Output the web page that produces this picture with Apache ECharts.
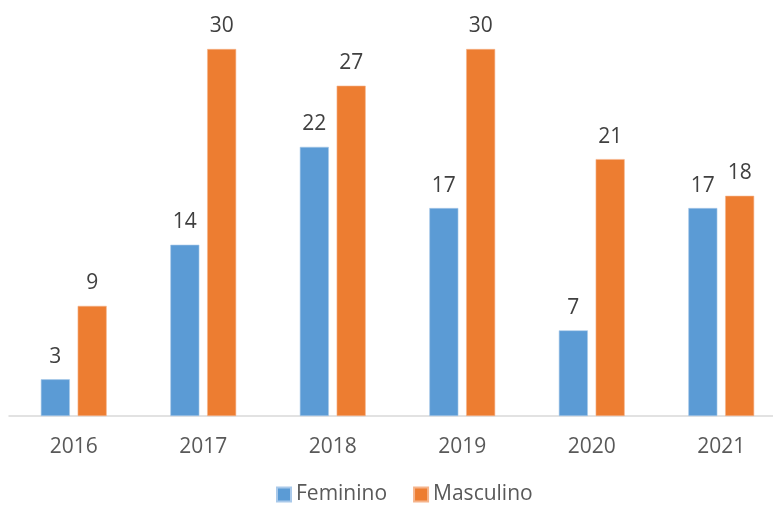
<!DOCTYPE html>
<html>
<head>
<meta charset="utf-8">
<script src="https://cdn.jsdelivr.net/npm/echarts@6/dist/echarts.min.js"></script>
<style>
  html, body { margin: 0; padding: 0; background: #ffffff; }
  #chart { width: 773px; height: 512px; }
</style>
</head>
<body>
<div id="chart"></div>
<script>
// Years on the category axis
const years = ['2016', '2017', '2018', '2019', '2020', '2021'];
// Counts per year by sex
const feminino = [3, 14, 22, 17, 7, 17];
const masculino = [9, 30, 27, 30, 21, 18];

const FONT = "'Open Sans', 'Noto Sans', sans-serif";

const chart = echarts.init(document.getElementById('chart'), null, { renderer: 'canvas' });

const labelStyle = {
  show: true,
  position: 'top',
  distance: 12,
  color: '#404040',
  fontSize: 21,
  fontFamily: FONT
};

chart.setOption({
  animation: false,
  backgroundColor: '#ffffff',
  // the last category band runs past the right edge of the canvas
  grid: { left: 9, width: 777, top: 49, bottom: 96, containLabel: false, outerBoundsMode: 'none' },
  legend: {
    top: 484,
    left: 276,
    padding: 0,
    itemWidth: 14,
    itemHeight: 14,
    itemGap: 26,
    icon: 'rect',
    textStyle: { color: '#595959', fontSize: 21, fontFamily: FONT },
    data: ['Feminino', 'Masculino']
  },
  xAxis: {
    type: 'category',
    data: years,
    axisLine: { lineStyle: { color: '#d9d9d9', width: 1.5 } },
    axisTick: { show: false },
    axisLabel: { color: '#595959', fontSize: 21, fontFamily: FONT, margin: 21 }
  },
  yAxis: {
    type: 'value',
    min: 0,
    max: 30,
    show: false,
    splitLine: { show: false }
  },
  series: [
    {
      name: 'Feminino',
      type: 'bar',
      data: feminino,
      barWidth: 29,
      barGap: '27%',
      itemStyle: { color: '#5B9BD5', borderColor: '#a9c9ea', borderWidth: 0.6 },
      label: labelStyle
    },
    {
      name: 'Masculino',
      type: 'bar',
      data: masculino,
      barWidth: 29,
      barGap: '27%',
      itemStyle: { color: '#ED7D31', borderColor: '#f5b48b', borderWidth: 0.6 },
      label: labelStyle
    }
  ]
});
</script>
</body>
</html>
